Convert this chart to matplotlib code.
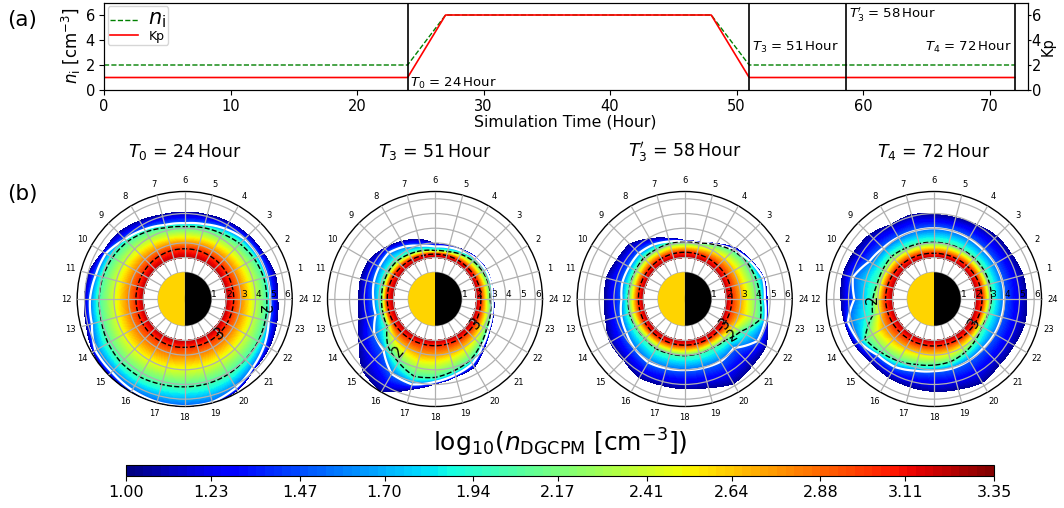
import numpy as np
import matplotlib as mpl
mpl.use('Agg')
import matplotlib.pyplot as plt

# top panel
time_ni = [0, 24, 27, 48, 51, 72]
ni = [2, 2, 6, 6, 2, 2]
time_kp = [0, 24, 27, 48, 51, 72]
kp = [1, 1, 6, 6, 1, 1]
marks = [24, 51, 58.66, 72]

# contour radii (L), one value per hour 0..24
hours = list(range(25))
field_levels = [3.2, 3.0, 2.0, 1.5, 1.05]

r0_t0 = [2.0] * 25
r3_t0 = [2.52, 2.52, 2.54, 2.56, 2.58, 2.6, 2.6, 2.6, 2.58, 2.55, 2.52, 2.5, 2.5, 2.5, 2.5, 2.5, 2.5, 2.5, 2.47, 2.48, 2.5, 2.5, 2.5, 2.5, 2.52]
r2_t0 = [4.77, 4.75, 4.65, 4.5, 4.3, 4.2, 4.1, 4.2, 4.45, 4.7, 4.85, 4.95, 5.0, 5.05, 5.2, 5.3, 5.3, 5.2, 5.16, 5.15, 5.1, 5.0, 4.95, 4.85, 4.77]
wh_t0 = [5.0, 5.0, 5.0, 4.95, 4.7, 4.45, 4.34, 4.4, 4.65, 4.93, 5.38, 5.45, 5.63, 5.72, 6.2, 6.2, 6.34, 6.44, 6.48, 6.45, 6.16, 5.75, 5.45, 5.1, 5.0]
ed_t0 = [5.5, 5.55, 5.36, 5.3, 5.2, 5.1, 5.07, 5.1, 5.3, 5.54, 5.57, 5.95, 5.98, 6.09, 6.36, 6.5, 6.5, 6.5, 6.5, 6.5, 6.34, 5.86, 5.8, 5.63, 5.5]

r3_t3 = [2.3, 2.3, 2.28, 2.26, 2.25, 2.24, 2.23, 2.25, 2.3, 2.35, 2.4, 2.43, 2.43, 2.43, 2.42, 2.4, 2.38, 2.36, 2.36, 2.36, 2.36, 2.36, 2.35, 2.32, 2.3]
r2_t3 = [2.93, 2.97, 2.93, 2.84, 2.7, 2.52, 2.48, 2.59, 2.7, 2.84, 2.86, 2.84, 2.82, 2.85, 2.93, 3.72, 4.15, 4.63, 4.52, 4.23, 3.98, 3.57, 3.23, 3.09, 2.93]
wh_t3 = [3.09, 3.16, 3.16, 3.09, 2.93, 2.82, 2.75, 2.93, 3.3, 3.63, 3.57, 3.5, 3.38, 3.36, 3.95, 4.13, 5.07, 5.2, 4.82, 4.52, 4.27, 3.73, 3.38, 3.2, 3.09]
ed_t3 = [3.16, 3.18, 3.2, 3.15, 3.02, 2.93, 2.91, 3.38, 3.68, 4.04, 4.38, 4.41, 4.34, 4.5, 5.13, 6.09, 6.45, 5.52, 4.93, 4.63, 4.52, 3.89, 3.45, 3.27, 3.16]

r3_t3p = [2.4, 2.4, 2.4, 2.38, 2.37, 2.36, 2.36, 2.36, 2.36, 2.35, 2.34, 2.34, 2.33, 2.33, 2.33, 2.33, 2.33, 2.33, 2.32, 2.33, 2.33, 2.34, 2.36, 2.38, 2.4]
r2_t3p = [4.32, 4.23, 4.1, 3.84, 3.43, 3.11, 3.04, 3.09, 3.07, 3.13, 3.04, 3.02, 3.02, 3.07, 3.02, 3.0, 3.09, 3.04, 3.04, 3.02, 3.0, 3.13, 3.59, 4.52, 4.32]
wh_t3p = [4.63, 4.7, 4.32, 3.91, 3.45, 3.13, 3.08, 3.23, 3.45, 3.59, 3.55, 3.57, 3.48, 3.66, 3.77, 3.98, 4.16, 4.07, 4.02, 4.04, 4.1, 3.9, 4.9, 4.86, 4.63]
ed_t3p = [4.77, 4.75, 4.38, 4.07, 3.5, 3.17, 3.14, 3.43, 3.9, 4.45, 4.48, 4.68, 4.61, 4.72, 5.04, 5.04, 5.34, 5.23, 5.27, 5.4, 5.82, 5.61, 5.55, 4.98, 4.77]

r3_t4 = [2.45, 2.43, 2.4, 2.36, 2.32, 2.3, 2.29, 2.32, 2.36, 2.4, 2.44, 2.47, 2.48, 2.46, 2.44, 2.42, 2.4, 2.38, 2.38, 2.38, 2.38, 2.4, 2.42, 2.44, 2.45]
r2_t4 = [3.09, 3.1, 3.1, 3.09, 3.05, 3.04, 3.04, 3.08, 3.15, 3.27, 3.2, 3.18, 3.34, 3.5, 4.61, 4.3, 4.05, 3.79, 3.68, 3.59, 3.38, 3.16, 2.95, 3.0, 3.09]
wh_t4 = [3.95, 3.98, 3.98, 3.91, 3.95, 3.98, 4.0, 4.0, 4.03, 4.09, 4.27, 4.9, 4.6, 5.25, 5.04, 4.59, 4.52, 4.23, 4.09, 4.07, 4.0, 3.91, 3.93, 3.93, 3.95]
ed_t4 = [5.48, 5.44, 5.25, 5.2, 5.0, 4.88, 4.91, 5.11, 5.0, 5.36, 5.48, 5.59, 5.5, 5.45, 5.4, 5.23, 5.32, 5.36, 5.45, 5.52, 5.73, 5.45, 5.45, 5.55, 5.48]

titles = [r'$T_0$ = 24$\,$Hour', r'$T_3$ = 51$\,$Hour', r"$T_3'$ = 58$\,$Hour", r'$T_4$ = 72$\,$Hour']
centers = [184.7, 435, 684.7, 934]
panels = [
    (r3_t0, r2_t0, wh_t0, ed_t0),
    (r3_t3, r2_t3, wh_t3, ed_t3),
    (r3_t3p, r2_t3p, wh_t3p, ed_t3p),
    (r3_t4, r2_t4, wh_t4, ed_t4),
]
# (text, hour, L, rotation) for the contour labels
labels = [
    [('2', 23.5, 4.6, -90), ('3', 21, 2.54, 30)],
    [('3', 21.9, 2.45, 45), ('2', 15.7, 3.52, 50)],
    [('3', 21.9, 2.4, 45), ('2', 21.5, 3.34, 30)],
    [('3', 22, 2.36, 60), ('2', 12, 3.41, 90)],
]
cbar_ticks = [1.00, 1.23, 1.47, 1.70, 1.94, 2.17, 2.41, 2.64, 2.88, 3.11, 3.35]

W, H = 1064.0, 508.0
R_MIN, R_MAX = -0.82, 6.5
RADIUS = 107.5
CY = 299.0

def bend(cs):
    # follow the circle between hours instead of straight chords
    for p in cs.get_paths():
        p._interpolation_steps = 8

fig = plt.figure(figsize=(W / 100, H / 100), dpi=100)

ax = fig.add_axes([104 / W, 1 - 90 / H, (1027.5 - 104) / W, 87.5 / H])
ax.plot(time_ni, ni, color='green', ls='--', lw=1, label=r'$n_{\mathrm{i}}$')
ax.plot(time_kp, kp, color='red', lw=1.2, label='Kp')
for m in marks:
    ax.axvline(m, color='k', lw=1.2)
ax.set_xlim(0, 73)
ax.set_ylim(0, 7)
ax.set_yticks([0, 2, 4, 6])
ax.tick_params(labelsize=10.5, pad=3)
ax.set_xlabel('Simulation Time (Hour)', fontsize=11.3, labelpad=0)
ax.set_ylabel(r'$n_{\mathrm{i}}$ [cm$^{-3}$]', fontsize=12, labelpad=2)
leg = ax.legend(loc='upper left', fontsize=9, borderaxespad=0.3, labelspacing=0,
                borderpad=0.15, handlelength=2.3)
leg.get_texts()[0].set_fontsize(15)
ax.text(24.2, 0.55, titles[0], fontsize=9.5, va='center')
ax.text(51.2, 3.4, titles[1], fontsize=9.5, va='center')
ax.text(58.9, 6.05, titles[2], fontsize=9.5, va='center')
ax.text(71.8, 3.4, titles[3], fontsize=9.5, va='center', ha='right')

ax2 = ax.twinx()
ax2.set_ylim(0, 7)
ax2.set_yticks([0, 2, 4, 6])
ax2.tick_params(labelsize=10.5, pad=0.5, length=2.5)
ax2.set_ylabel('Kp', fontsize=10.5, labelpad=0)

fig.text(7 / W, 1 - 20 / H, '(a)', fontsize=15.5, va='center')
fig.text(7 / W, 1 - 194 / H, '(b)', fontsize=15.5, va='center')

levels = np.linspace(1.0, 3.35, 101)
theta = np.radians(np.array(hours) * 15.0)
for i, (r3, r2, wh, ed) in enumerate(panels):
    pos = [(centers[i] - RADIUS) / W, 1 - (CY + RADIUS) / H, 2 * RADIUS / W, 2 * RADIUS / H]
    pax = fig.add_axes(pos, projection='polar')
    R = np.array([r0_t0, r3, r2, wh, ed])
    T = np.tile(theta, (5, 1))
    Z = np.tile(np.array(field_levels)[:, None], (1, 25))
    cf = pax.contourf(T, R, Z, levels=levels, cmap='jet')
    cf.set_edgecolor('face')
    cf.set_linewidth(0.4)
    bend(cf)
    c1 = pax.contour(T, R, Z, levels=[1.5], colors='white', linewidths=1.6)
    c2 = pax.contour(T, R, Z, levels=[2.0, 3.0], colors='k', linewidths=1, linestyles='--')
    bend(c1)
    bend(c2)
    for txt, h, r, rot in labels[i]:
        pax.text(np.radians(h * 15), r, txt, fontsize=10.5, rotation=rot,
                 ha='center', va='center', color='k')
    pax.bar(0, 1 - R_MIN, width=np.pi, bottom=R_MIN, color='k', zorder=5)
    pax.bar(np.pi, 1 - R_MIN, width=np.pi, bottom=R_MIN, color='#ffd400', zorder=5)
    pax.set_ylim(R_MIN, R_MAX)
    pax.set_rgrids([1, 2, 3, 4, 5, 6], angle=0, fontsize=6.5)
    pax.set_thetagrids(np.arange(0, 360, 15), [str(h) if h else '24' for h in range(24)], fontsize=6)
    pax.tick_params(axis='x', pad=-2.5)
    pax.tick_params(axis='y', pad=0)
    pax.set_axisbelow(False)
    pax.grid(True, color='#b0b0b0', lw=0.9)
    pax.spines['polar'].set_linewidth(1)
    fig.text(centers[i] / W, 1 - 152 / H, titles[i], fontsize=12.5, ha='center', va='center')

cax = fig.add_axes([126 / W, 1 - 476 / H, 868 / W, 11 / H])
cb = fig.colorbar(cf, cax=cax, orientation='horizontal', ticks=cbar_ticks)
cb.ax.set_xticklabels(['%.2f' % t for t in cbar_ticks])
cb.ax.tick_params(labelsize=11.5, pad=3)
fig.text(560 / W, 1 - 443 / H, r'log$_{10}$($n_{\mathrm{DGCPM}}$ [cm$^{-3}$])', fontsize=18,
         ha='center', va='center')

fig.savefig('out.png', dpi=100)
